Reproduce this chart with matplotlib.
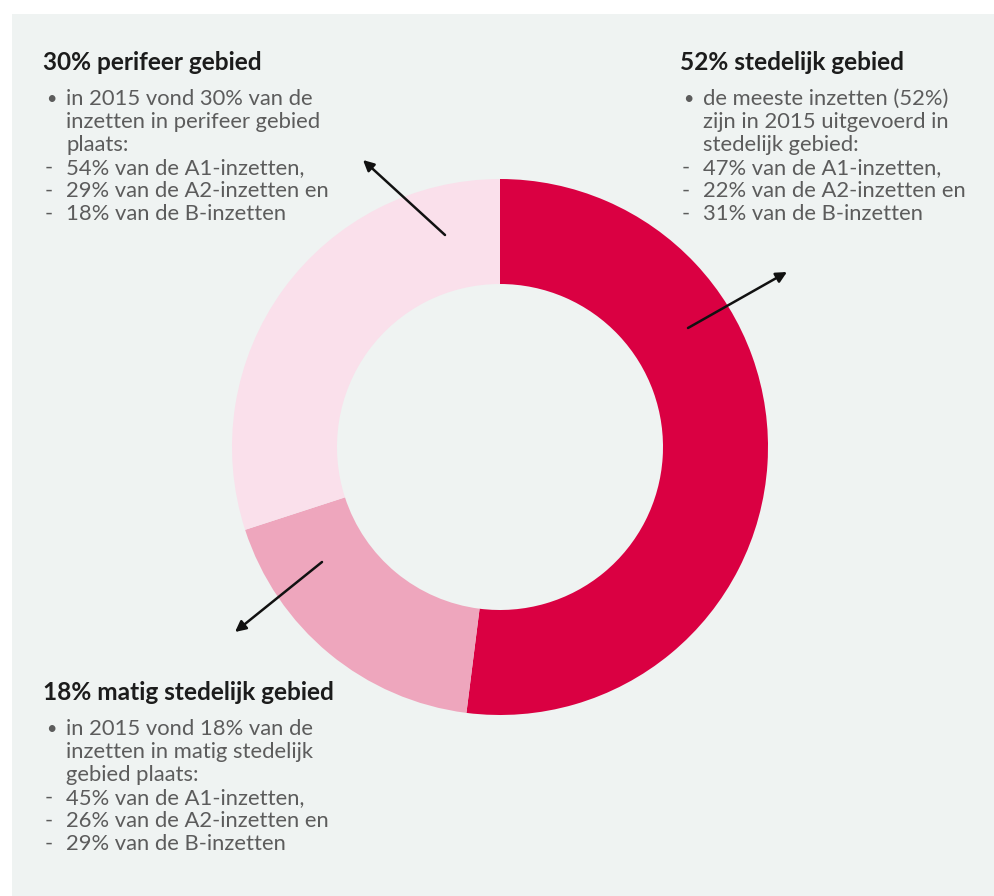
import matplotlib.pyplot as plt
from matplotlib.patches import Rectangle

# share of inzetten per gebiedstype in 2015 (%)
areas = ["stedelijk gebied", "matig stedelijk gebied", "perifeer gebied"]
shares = [52, 18, 30]
share_a1 = [47, 45, 54]
share_a2 = [22, 26, 29]
share_b = [31, 29, 18]
colors = ["#da0042", "#eea6bd", "#fae0eb"]

W, H = 995, 896
BG = "#eff3f2"
TITLE_C = "#1c1c1c"
BODY_C = "#5c5c5c"
FONT = "Lato"
BODY_SIZE = 15.8
TITLE_SIZE = 17.6


def fy(y):
    # work in pixel rows from the top
    return H - y


fig = plt.figure(figsize=(W / 100, H / 100), dpi=100, facecolor="white")
ax = fig.add_axes([0, 0, 1, 1])

ax.add_patch(Rectangle((12, 0), W - 12, H - 14, facecolor=BG, edgecolor="none", zorder=0))

ax.pie(shares, colors=colors, startangle=90, counterclock=False,
       center=(500, fy(447)), radius=268,
       wedgeprops=dict(width=105, edgecolor="none", linewidth=0))

ax.set_xlim(0, W)
ax.set_ylim(0, H)
ax.set_aspect("equal")
ax.axis("off")

intro = [
    ["de meeste inzetten ({}%)", "zijn in 2015 uitgevoerd in", "stedelijk gebied:"],
    ["in 2015 vond {}% van de", "inzetten in matig stedelijk", "gebied plaats:"],
    ["in 2015 vond {}% van de", "inzetten in perifeer gebied", "plaats:"],
]
# left x of each block, row of title
blocks = [(680, 62), (43, 692), (43, 62)]

for i, (x0, y0) in enumerate(blocks):
    ax.text(x0, fy(y0), f"{shares[i]}% {areas[i]}", fontsize=TITLE_SIZE, fontweight="bold",
            color=TITLE_C, family=FONT, va="center", ha="left")
    lines = [l.format(shares[i]) for l in intro[i]]
    y = y0 + 37
    for k, line in enumerate(lines):
        if k == 0:
            ax.text(x0 + 3, fy(y), "•", fontsize=13, color=BODY_C, family=FONT,
                    va="center", ha="left")
        ax.text(x0 + 23, fy(y), line, fontsize=BODY_SIZE, color=BODY_C, family=FONT,
                va="center", ha="left")
        y += 23
    subs = [f"{share_a1[i]}% van de A1-inzetten,",
            f"{share_a2[i]}% van de A2-inzetten en",
            f"{share_b[i]}% van de B-inzetten"]
    for line in subs:
        ax.text(x0 + 2, fy(y), "-", fontsize=BODY_SIZE, color=BODY_C, family=FONT,
                va="center", ha="left")
        ax.text(x0 + 23, fy(y), line, fontsize=BODY_SIZE, color=BODY_C, family=FONT,
                va="center", ha="left")
        y += 23

# pointers from the ring to each text block: (tail, head)
arrows = [((688, 328), (787, 272)), ((322, 562), (235, 632)), ((445, 235), (363, 160))]
for (tx, ty), (hx, hy) in arrows:
    ax.annotate("", xy=(hx, fy(hy)), xytext=(tx, fy(ty)),
                arrowprops=dict(arrowstyle="-|>", color="#111111", lw=1.8,
                                mutation_scale=16, shrinkA=0, shrinkB=0))

fig.savefig("out.png", dpi=100, facecolor=fig.get_facecolor())
